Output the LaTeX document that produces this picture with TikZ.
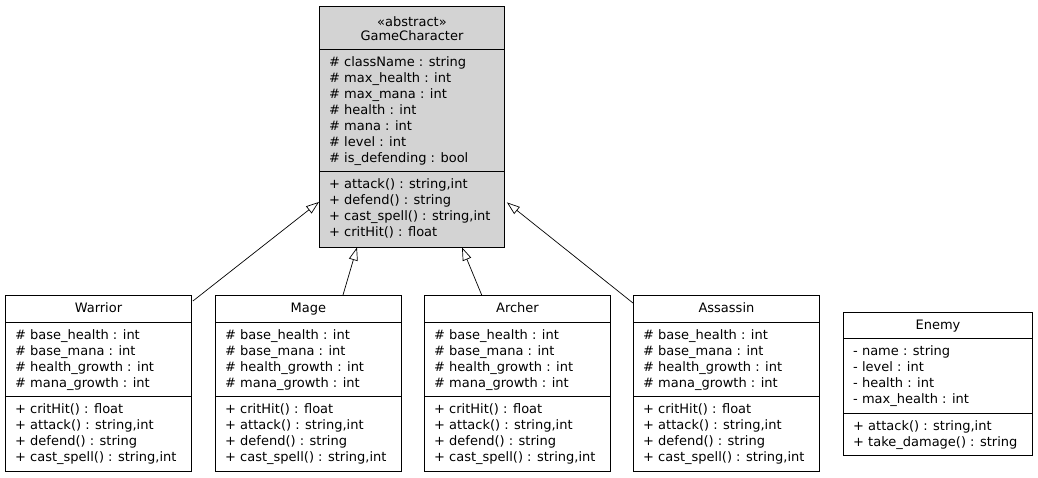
\documentclass[tikz,border=0pt]{standalone}
\usepackage{fontspec}
\setmainfont{DejaVu Sans}
\usetikzlibrary{calc,arrows.meta}
\definecolor{gcfill}{RGB}{211,211,211}
\tikzset{
  classbox/.style={draw=black, line width=0.9pt, inner sep=0pt},
  classline/.style={draw=black, line width=0.9pt},
  rowtxt/.style={anchor=base west, inner sep=0pt, font=\fontsize{13}{16}\selectfont},
  hdrtxt/.style={anchor=base, inner sep=0pt, font=\fontsize{13}{16}\selectfont},
  inherit/.style={draw=black, line width=0.7pt, -{Triangle[open, length=13pt, width=9pt, line width=0.7pt]}}
}
% name, x, y, width, h1, h2, h3, fill
\newcommand{\umlclass}[8]{%
  \node[classbox, fill=#8, minimum width=#4, minimum height={#5+#6+#7}, anchor=north west] (#1) at (#2,#3) {};
  \draw[classline] ($(#1.north west)+(0,#5)$) -- ($(#1.north east)+(0,#5)$);
  \draw[classline] ($(#1.north west)+(0,#5+#6)$) -- ($(#1.north east)+(0,#5+#6)$);
}
% name, tag, first baseline offset, list
\newcommand{\umlrows}[4]{%
  \foreach \t [count=\i] in {#4} {
    \node[rowtxt] (#1-#2-\i) at ($(#1.north west)+(10,{#3+16*(\i-1)})$) {\t};
  }
}
\begin{document}
\begin{tikzpicture}[x=1pt,y=-1pt]
\fill[white] (0,0) rectangle (1038,477);
\useasboundingbox (0,0) rectangle (1038,477);

% GameCharacter
\umlclass{gc}{319}{6}{185}{43}{122}{75.5}{gcfill}
\node[hdrtxt] (gc-h1) at ($(gc.north)+(0,20.7)$) {«abstract»};
\node[hdrtxt] (gc-h2) at ($(gc.north)+(0,34.7)$) {GameCharacter};
\umlrows{gc}{a}{60}{{\# className : string},{\# max\_health : int},{\# max\_mana : int},{\# health : int},{\# mana : int},{\# level : int},{\# is\_defending : bool}}
\umlrows{gc}{m}{182}{{+ attack() : string,int},{+ defend() : string},{+ cast\_spell() : string,int},{+ critHit() : float}}

% subclasses
\foreach \nm/\lbl/\xx in {warrior/Warrior/5, mage/Mage/215, archer/Archer/424, assassin/Assassin/633} {
  \umlclass{\nm}{\xx}{295}{186}{27}{74.5}{74}{white}
  \node[hdrtxt] (\nm-h) at ($(\nm.north)+(0,17.5)$) {\lbl};
  \umlrows{\nm}{a}{44}{{\# base\_health : int},{\# base\_mana : int},{\# health\_growth : int},{\# mana\_growth : int}}
  \umlrows{\nm}{m}{118.5}{{+ critHit() : float},{+ attack() : string,int},{+ defend() : string},{+ cast\_spell() : string,int}}
}

% Enemy
\umlclass{enemy}{843}{312}{189}{26.3}{75}{41.7}{white}
\node[hdrtxt] (enemy-h) at ($(enemy.north)+(0,17.3)$) {Enemy};
\umlrows{enemy}{a}{43.3}{{- name : string},{- level : int},{- health : int},{- max\_health : int}}
\umlrows{enemy}{m}{118.3}{{+ attack() : string,int},{+ take\_damage() : string}}

% inheritance
\draw[inherit] ($(warrior.north east)+(1,6)$) -- ($(gc.south west)+(0,-45.5)$);
\draw[inherit] ($(mage.north west)+(128,0)$) -- ($(gc.south west)+(38,0)$);
\draw[inherit] ($(archer.north west)+(57.7,0)$) -- ($(gc.south west)+(143,0)$);
\draw[inherit] ($(assassin.north west)+(0,8)$) -- ($(gc.south east)+(2,-45)$);
\end{tikzpicture}
\end{document}
